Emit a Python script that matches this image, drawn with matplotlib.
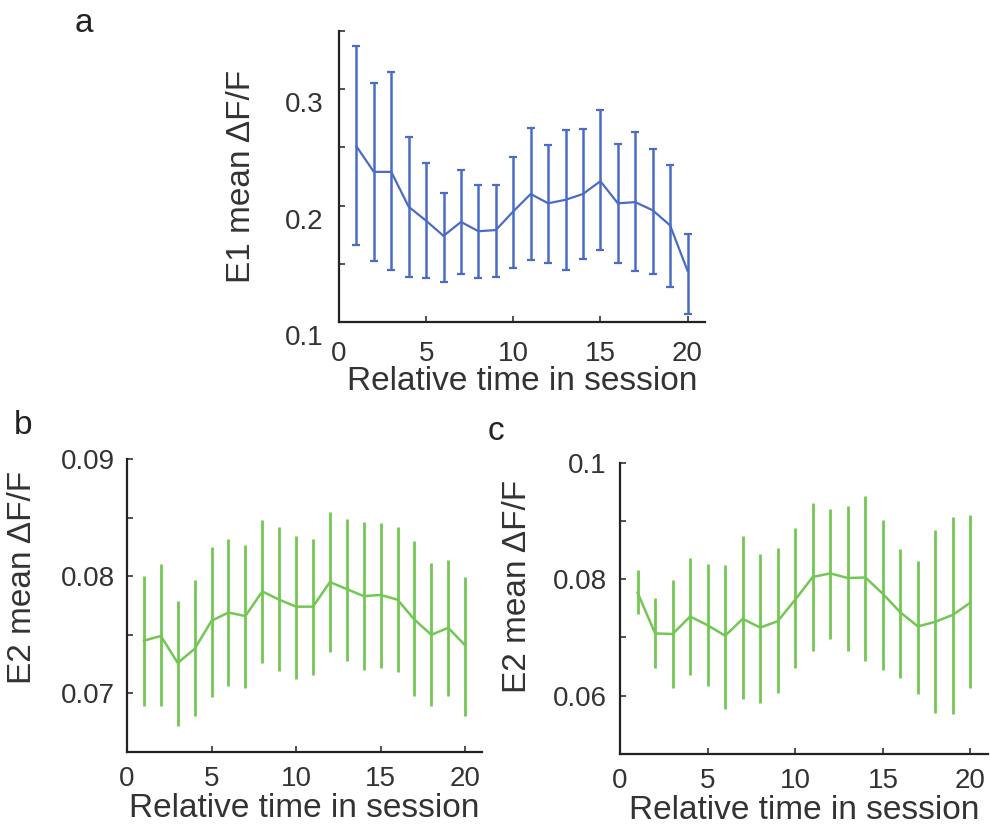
import numpy as np
import matplotlib
matplotlib.use("Agg")
import matplotlib.pyplot as plt
import matplotlib.transforms as mtrans

plt.rcParams['font.family'] = ['Liberation Sans', 'DejaVu Sans']

# session bins
t = np.arange(1, 21)

# panel a: E1 mean dF/F with lower / upper error bar ends
e1_mean = [0.251, 0.229, 0.229, 0.199, 0.187, 0.174, 0.186, 0.178, 0.179, 0.195,
           0.210, 0.202, 0.205, 0.210, 0.221, 0.202, 0.203, 0.196, 0.183, 0.144]
e1_hi = [0.337, 0.305, 0.315, 0.259, 0.237, 0.211, 0.231, 0.218, 0.218, 0.242,
         0.267, 0.252, 0.265, 0.266, 0.282, 0.253, 0.263, 0.249, 0.235, 0.176]
e1_lo = [0.166, 0.152, 0.145, 0.139, 0.138, 0.134, 0.141, 0.138, 0.139, 0.146,
         0.153, 0.151, 0.145, 0.154, 0.162, 0.151, 0.144, 0.141, 0.130, 0.107]

# panel b: E2 mean dF/F
e2b_mean = [0.0745, 0.0749, 0.0726, 0.0738, 0.0762, 0.0769, 0.0766, 0.0787, 0.0780, 0.0774,
            0.0774, 0.0795, 0.0789, 0.0783, 0.0784, 0.0780, 0.0763, 0.0750, 0.0756, 0.0741]
e2b_hi = [0.0800, 0.0810, 0.0779, 0.0797, 0.0825, 0.0832, 0.0827, 0.0848, 0.0842, 0.0834,
          0.0832, 0.0855, 0.0849, 0.0846, 0.0845, 0.0842, 0.0830, 0.0811, 0.0814, 0.0799]
e2b_lo = [0.0689, 0.0689, 0.0672, 0.0681, 0.0697, 0.0706, 0.0705, 0.0726, 0.0719, 0.0712,
          0.0716, 0.0735, 0.0728, 0.0720, 0.0722, 0.0718, 0.0698, 0.0689, 0.0698, 0.0681]

# panel c: E2 mean dF/F
e2c_mean = [0.0777, 0.0707, 0.0706, 0.0736, 0.0721, 0.0703, 0.0732, 0.0717, 0.0728, 0.0765,
            0.0804, 0.0810, 0.0802, 0.0803, 0.0775, 0.0743, 0.0719, 0.0727, 0.0739, 0.0760]
e2c_hi = [0.0816, 0.0767, 0.0798, 0.0836, 0.0826, 0.0824, 0.0874, 0.0844, 0.0854, 0.0888,
          0.0930, 0.0920, 0.0926, 0.0942, 0.0901, 0.0852, 0.0832, 0.0884, 0.0907, 0.0910]
e2c_lo = [0.0741, 0.0647, 0.0613, 0.0636, 0.0616, 0.0578, 0.0594, 0.0587, 0.0604, 0.0647,
          0.0677, 0.0697, 0.0677, 0.0660, 0.0645, 0.0630, 0.0603, 0.0571, 0.0569, 0.0613]

blue = '#4a6cc6'
green = '#74c655'

fig = plt.figure(figsize=(9.9, 8.39), dpi=100)

ax_a = fig.add_axes([0.3424, 0.6162, 0.3697, 0.3468])
ax_b = fig.add_axes([0.1283, 0.1037, 0.3586, 0.3492])
ax_c = fig.add_axes([0.6263, 0.1013, 0.3717, 0.3472])


def errs(m, lo, hi):
    m = np.array(m); lo = np.array(lo); hi = np.array(hi)
    return np.vstack([m - lo, hi - m])


ax_a.errorbar(t, e1_mean, yerr=errs(e1_mean, e1_lo, e1_hi), color=blue, lw=1.6,
              elinewidth=1.8, capsize=3, capthick=1.6)
ax_b.errorbar(t, e2b_mean, yerr=errs(e2b_mean, e2b_lo, e2b_hi), color=green, lw=1.8,
              elinewidth=2.0, capsize=0)
ax_c.errorbar(t, e2c_mean, yerr=errs(e2c_mean, e2c_lo, e2c_hi), color=green, lw=1.8,
              elinewidth=2.0, capsize=0)

# ax, ylim, ticks, labels, ylabel, ytick pad, xtick pad, xlabel pad, ylabel pos
settings = [
    (ax_a, (0.1, 0.35), np.arange(0.1, 0.351, 0.05), {0.1: '0.1', 0.2: '0.2', 0.3: '0.3'},
     'E1 mean ΔF/F', 11, 14, -1, (-0.224, 0.5)),
    (ax_b, (0.065, 0.09), np.arange(0.065, 0.0901, 0.005), {0.07: '0.07', 0.08: '0.08', 0.09: '0.09'},
     'E2 mean ΔF/F', 8.5, 10, 1, (-0.25, 0.597)),
    (ax_c, (0.05, 0.1), np.arange(0.05, 0.1001, 0.01), {0.06: '0.06', 0.08: '0.08', 0.1: '0.1'},
     'E2 mean ΔF/F', 9.5, 10, 1, (-0.236, 0.574)),
]

for ax, ylim, yt, labs, ylab, ypad, xpad, lpad, lpos in settings:
    ax.set_xlim(0, 21)
    ax.set_ylim(*ylim)
    ax.set_xticks([0, 5, 10, 15, 20])
    ax.set_yticks(yt)
    ytl = []
    for v in yt:
        key = [k for k in labs if abs(k - v) < 1e-6]
        ytl.append(labs[key[0]] if key else '')
    ax.set_yticklabels(ytl)
    for s in ['top', 'right']:
        ax.spines[s].set_visible(False)
    for s in ['left', 'bottom']:
        ax.spines[s].set_linewidth(1.6)
        ax.spines[s].set_color('#222222')
    ax.tick_params(direction='in', length=4, width=1.2, labelsize=20,
                   labelcolor='#333333', color='#333333')
    ax.tick_params(axis='y', pad=ypad)
    ax.tick_params(axis='x', pad=xpad)
    ax.set_xlabel('Relative time in session', fontsize=24, color='#333333', labelpad=lpad)
    ax.set_ylabel(ylab, fontsize=24, color='#333333')
    ax.yaxis.set_label_coords(*lpos)

# panel a tick labels sit a bit lower in the original
off = mtrans.ScaledTranslation(0, -0.13, fig.dpi_scale_trans)
for lab in ax_a.get_yticklabels():
    lab.set_transform(lab.get_transform() + off)

fig.text(84 / 990, 1 - 24 / 839, 'a', fontsize=24, ha='center', va='center', color='#222222')
fig.text(23 / 990, 1 - 425 / 839, 'b', fontsize=24, ha='center', va='center', color='#222222')
fig.text(496 / 990, 1 - 431 / 839, 'c', fontsize=24, ha='center', va='center', color='#222222')

fig.savefig('out.png', dpi=100)
